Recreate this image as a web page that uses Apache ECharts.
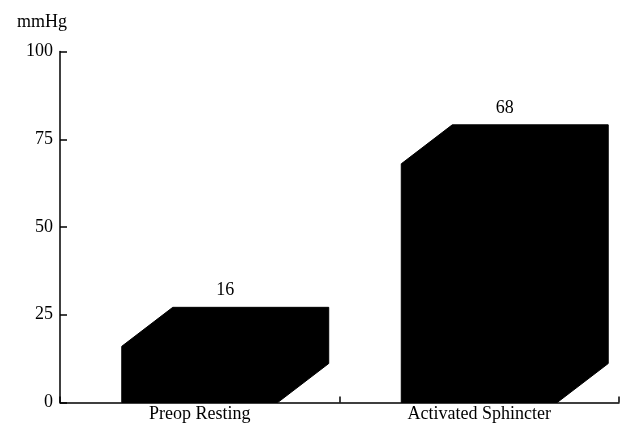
<!DOCTYPE html>
<html>
<head>
<meta charset="utf-8">
<script src="https://cdn.jsdelivr.net/npm/echarts@6/dist/echarts.min.js"></script>
<style>
html,body{margin:0;padding:0;background:#fff;}
#chart{width:623px;height:426px;}
</style>
</head>
<body>
<div id="chart"></div>
<script>
var categories = ['Preop Resting', 'Activated Sphincter']
var values = [16, 68]
var yTicks = [0, 25, 50, 75, 100]

var font = '"Liberation Serif", "Times New Roman", serif'
var depthX = 51
var depthY = 39

function renderBox(params, api) {
    var idx = api.value(0)
    var val = api.value(1)
    var top = api.coord([idx, val])
    var base = api.coord([idx, 0])
    var w = api.size([1, 0])[0] * 0.558
    var x0 = top[0] - w / 2
    var x1 = top[0] + w / 2
    var pts = [
        [x0, base[1]],
        [x0, top[1]],
        [x0 + depthX, top[1] - depthY],
        [x1 + depthX, top[1] - depthY],
        [x1 + depthX, base[1] - depthY],
        [x1, base[1]]
    ]
    return {
        type: 'group',
        children: [
            {
                type: 'polygon',
                shape: { points: pts },
                style: { fill: '#000', stroke: '#000' }
            },
            {
                type: 'text',
                x: top[0] + depthX / 2,
                y: top[1] - depthY - 17,
                style: {
                    text: String(val),
                    fill: '#000',
                    font: '18px ' + font,
                    align: 'center',
                    verticalAlign: 'middle'
                }
            }
        ]
    }
}

var chart = echarts.init(document.getElementById('chart'))
chart.setOption({
    animation: false,
    title: {
        text: 'mmHg',
        left: 12,
        top: 8,
        textStyle: { color: '#000', fontSize: 18, fontWeight: 'normal', fontFamily: font }
    },
    grid: { left: 60, right: 4, top: 51.5, bottom: 23.5, containLabel: false },
    xAxis: {
        type: 'category',
        data: categories,
        boundaryGap: true,
        axisLine: { lineStyle: { color: '#000', width: 1.5 } },
        axisTick: { show: true, inside: true, length: 6, lineStyle: { color: '#000', width: 1.5 } },
        axisLabel: { color: '#000', fontSize: 18, fontFamily: font, margin: 3 },
        splitLine: { show: false }
    },
    yAxis: {
        type: 'value',
        min: yTicks[0],
        max: yTicks[yTicks.length - 1],
        interval: 25,
        axisLine: { show: true, lineStyle: { color: '#000', width: 1.5 } },
        axisTick: { show: true, inside: true, length: 7, lineStyle: { color: '#000', width: 1.5 } },
        axisLabel: { color: '#000', fontSize: 18, fontFamily: font, margin: 7 },
        splitLine: { show: false }
    },
    series: [{
        type: 'custom',
        renderItem: renderBox,
        encode: { x: 0, y: 1 },
        data: values.map(function (v, i) { return [i, v] })
    }]
})
</script>
</body>
</html>
